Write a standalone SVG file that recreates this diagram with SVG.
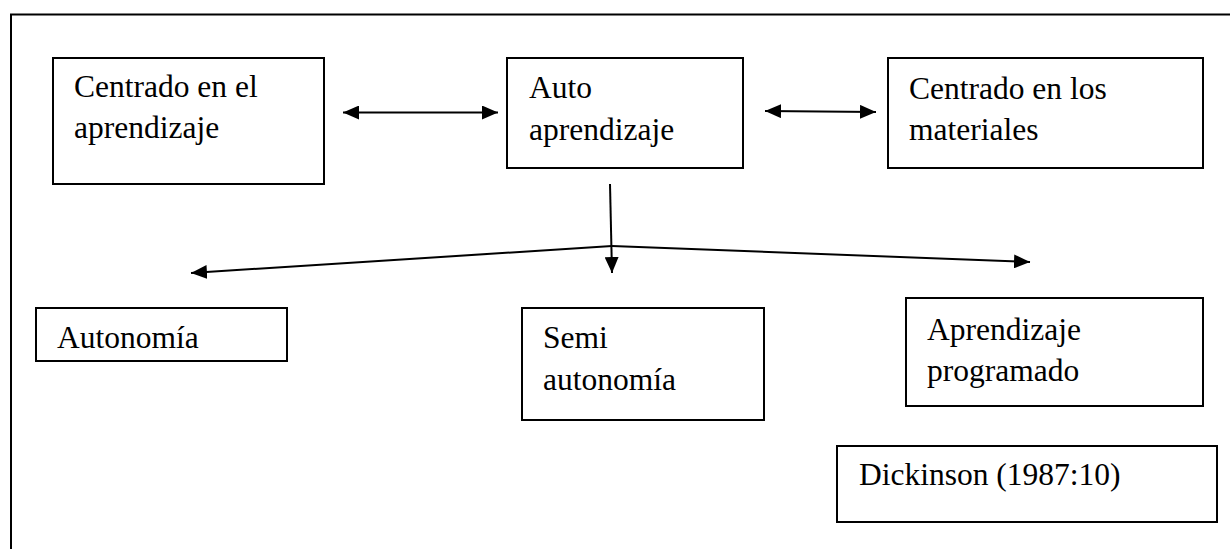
<svg xmlns="http://www.w3.org/2000/svg" width="1230" height="549" viewBox="0 0 1230 549">
<style>
.box{fill:#fff;stroke:#000;stroke-width:2}
.t{font-family:"Liberation Serif","Times New Roman",serif;font-size:31.5px;fill:#000}
.c{fill:none;stroke:#000;stroke-width:2}
</style>
<defs>
<marker id="ah" viewBox="0 0 16 14" refX="16" refY="7" markerWidth="16" markerHeight="14" markerUnits="userSpaceOnUse" orient="auto-start-reverse">
<path d="M0,0 L16,7 L0,14 Z" fill="#000"/>
</marker>
</defs>
<rect width="1230" height="549" fill="#fff"/>
<path d="M11,549 V14.5 H1230" fill="none" stroke="#000" stroke-width="2"/>
<g id="n1"><rect class="box" x="53" y="58" width="271" height="126"/><text class="t" x="74" y="97">Centrado en el</text><text class="t" x="74" y="138">aprendizaje</text></g>
<g id="n2"><rect class="box" x="507" y="58" width="236" height="110"/><text class="t" x="529" y="98">Auto</text><text class="t" x="529" y="140">aprendizaje</text></g>
<g id="n3"><rect class="box" x="888" y="58" width="315" height="110"/><text class="t" x="909" y="99">Centrado en los</text><text class="t" x="909" y="140">materiales</text></g>
<g id="n4"><rect class="box" x="36" y="308" width="251" height="53"/><text class="t" x="57" y="348">Autonomía</text></g>
<g id="n5"><rect class="box" x="522" y="308" width="242" height="112"/><text class="t" x="543" y="348">Semi</text><text class="t" x="543" y="390">autonomía</text></g>
<g id="n6"><rect class="box" x="906" y="298" width="297" height="108"/><text class="t" x="927" y="340">Aprendizaje</text><text class="t" x="927" y="381">programado</text></g>
<g id="n7"><rect class="box" x="837" y="446" width="380" height="76"/><text class="t" x="859" y="485">Dickinson (1987:10)</text></g>
<g id="connectors">
<line class="c" x1="343" y1="112.5" x2="498" y2="112.5" marker-start="url(#ah)" marker-end="url(#ah)"/>
<line class="c" x1="765" y1="111" x2="876" y2="112" marker-start="url(#ah)" marker-end="url(#ah)"/>
<line class="c" x1="610" y1="184" x2="612" y2="273" marker-end="url(#ah)"/>
<line class="c" x1="612" y1="246" x2="191" y2="273" marker-end="url(#ah)"/>
<line class="c" x1="612" y1="246" x2="1030" y2="262" marker-end="url(#ah)"/>
</g>
</svg>
